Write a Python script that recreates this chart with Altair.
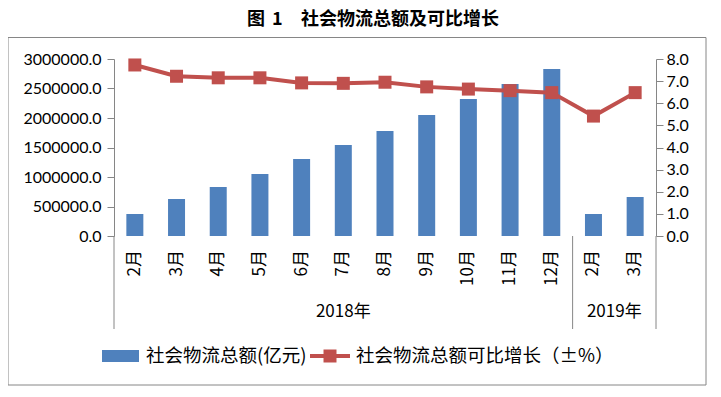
import altair as alt
import pandas as pd

# ---- data ----
months = ["2月", "3月", "4月", "5月", "6月", "7月", "8月", "9月", "10月", "11月", "12月", "2月", "3月"]
years = ["2018年"] * 11 + ["2019年"] * 2
totals = [373000, 627000, 831000, 1051000, 1305000, 1542000, 1780000,
          2051000, 2322000, 2576000, 2831000, 373000, 661000]
growth = [7.73, 7.22, 7.15, 7.15, 6.92, 6.90, 6.95, 6.74, 6.64, 6.57, 6.48, 5.42, 6.48]
left_ticks = [0, 500000, 1000000, 1500000, 2000000, 2500000, 3000000]
right_ticks = [0, 1, 2, 3, 4, 5, 6, 7, 8]
series_names = ["社会物流总额(亿元)", "社会物流总额可比增长（±%）"]
title_parts = ["图", "1", "社会物流总额及可比增长"]

keys = [f"{y}|{m}" for y, m in zip(years, months)]
df = pd.DataFrame({"key": keys, "month": months, "year": years,
                   "total": totals, "growth": growth})

BLUE = "#4F81BD"
RED = "#C0504D"
GRAY = "#868686"
CJK = "Noto Sans CJK SC"
NUM = "Lato"

W, H = 542, 177
xscale = alt.Scale(domain=keys, paddingInner=0, paddingOuter=0)

base = alt.Chart(df)

bars = base.mark_bar(size=17, color=BLUE).encode(
    x=alt.X("key:N", scale=xscale, sort=None,
            axis=alt.Axis(labels=False, title=None, tickBand="extent", tickSize=46,
                          tickColor=GRAY, domainColor=GRAY, ticks=True)),
    y=alt.Y("total:Q", scale=alt.Scale(domain=[0, 3000000]),
            axis=alt.Axis(orient="left", values=left_ticks, format=".1f", title=None,
                          grid=False, tickSize=7, labelPadding=6, tickColor=GRAY,
                          domainColor=GRAY, labelFont=NUM, labelFontSize=16,
                          labelColor="black")),
)

line = base.mark_line(color=RED, strokeWidth=4).encode(
    x=alt.X("key:N", scale=xscale, sort=None, axis=None),
    y=alt.Y("growth:Q", scale=alt.Scale(domain=[0, 8]),
            axis=alt.Axis(orient="right", values=right_ticks, format=".1f", title=None,
                          grid=False, tickSize=7, labelPadding=3, tickColor=GRAY,
                          domainColor=GRAY, labelFont=NUM, labelFontSize=16,
                          labelColor="black")),
)

points = base.mark_square(size=169, color=RED, opacity=1).encode(
    x=alt.X("key:N", scale=xscale, sort=None, axis=None),
    y=alt.Y("growth:Q", scale=alt.Scale(domain=[0, 8]), axis=None),
)

month_labels = base.mark_text(angle=270, align="right", baseline="middle",
                              font=CJK, fontSize=17, color="black").encode(
    x=alt.X("key:N", scale=xscale, sort=None, axis=None),
    y=alt.value(H + 14),
    text="month:N",
)

# year group labels and separators
year_df_a = pd.DataFrame({"key": [keys[5]], "year": [years[5]]})
year_df_b = pd.DataFrame({"key": [keys[12]], "year": [years[12]]})
year_a = alt.Chart(year_df_a).mark_text(font=CJK, fontSize=17, baseline="middle",
                                         align="center", color="black").encode(
    x=alt.X("key:N", scale=xscale, sort=None, axis=None, bandPosition=0.5),
    y=alt.value(H + 76), text="year:N")
year_b = alt.Chart(year_df_b).mark_text(font=CJK, fontSize=17, baseline="middle",
                                         align="center", color="black").encode(
    x=alt.X("key:N", scale=xscale, sort=None, axis=None, bandPosition=0),
    y=alt.value(H + 76), text="year:N")

group_start = pd.DataFrame({"key": [keys[0], keys[11]]})
group_end = pd.DataFrame({"key": [keys[-1]]})
sep_a = alt.Chart(group_start).mark_rule(color=GRAY, strokeWidth=1).encode(
    x=alt.X("key:N", scale=xscale, sort=None, axis=None, bandPosition=0),
    y=alt.value(H), y2=alt.value(H + 93))
sep_b = alt.Chart(group_end).mark_rule(color=GRAY, strokeWidth=1).encode(
    x=alt.X("key:N", scale=xscale, sort=None, axis=None, bandPosition=1),
    y=alt.value(H), y2=alt.value(H + 93))

one = pd.DataFrame({"a": [0]})


def title_piece(txt, xpos):
    return alt.Chart(one).mark_text(font=CJK, fontSize=18, fontWeight="bold",
                                    align="left", baseline="middle",
                                    color="black").encode(
        x=alt.value(xpos), y=alt.value(-39.5), text=alt.value(txt))


t1 = title_piece(title_parts[0], 133)
t2 = title_piece(title_parts[1], 158)
t3 = title_piece(title_parts[2], 187)

border = alt.Chart(one).mark_rect(fillOpacity=0, fill="white", stroke=GRAY,
                                  strokeWidth=1).encode(
    x=alt.value(-106), x2=alt.value(592), y=alt.value(-21.5), y2=alt.value(326))

leg_rect = alt.Chart(one).mark_rect(color=BLUE).encode(
    x=alt.value(-12), x2=alt.value(25), y=alt.value(291), y2=alt.value(303))
leg_text1 = alt.Chart(one).mark_text(font=CJK, fontSize=18.5, align="left",
                                     baseline="middle", color="black").encode(
    x=alt.value(32), y=alt.value(297), text=alt.value(series_names[0]))
leg_line = alt.Chart(one).mark_rule(color=RED, strokeWidth=4).encode(
    x=alt.value(196), x2=alt.value(236), y=alt.value(297))
leg_pt = alt.Chart(one).mark_square(size=169, color=RED, opacity=1).encode(
    x=alt.value(216), y=alt.value(297))
leg_text2 = alt.Chart(one).mark_text(font=CJK, fontSize=18.5, align="left",
                                     baseline="middle", color="black").encode(
    x=alt.value(242), y=alt.value(297), text=alt.value(series_names[1]))

chart = alt.layer(
    border, bars, line, points, month_labels, year_a, year_b, sep_a, sep_b,
    t1, t2, t3, leg_rect, leg_text1, leg_line, leg_pt, leg_text2
).resolve_scale(y="independent").properties(
    width=W, height=H,
    autosize=alt.AutoSizeParams(type="none"),
    padding={"left": 106, "top": 51, "right": 57, "bottom": 153},
    background="white",
).configure_view(strokeWidth=0)

chart.save("out.html", embed_options={"renderer": "svg", "actions": False})
